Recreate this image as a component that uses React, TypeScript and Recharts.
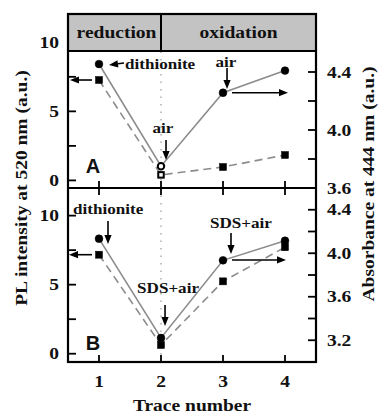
import React from 'react';
import { ComposedChart, Line, XAxis, YAxis, ReferenceLine, ReferenceDot } from 'recharts';

// ---------------- data ----------------
const traces = [1, 2, 3, 4];
const absorbanceA = [4.455, 3.75, 4.257, 4.41];
const plA = [7.27, 0.4, 0.97, 1.84];
const absorbanceB = [4.134, 3.221, 3.935, 4.115];
const plB = [7.17, 0.63, 5.24, 7.71];

const xTicks = [1, 2, 3, 4];
const plTicks = [0, 2.5, 5, 7.5, 10];
const plTickLabels = [0, 5, 10];
const absTicksA = [3.6, 3.8, 4.0, 4.2, 4.4];
const absTicksB = [3.2, 3.4, 3.6, 3.8, 4.0, 4.2, 4.4];
const absTickLabels = [3.2, 3.6, 4.0, 4.4];
const phaseLabels = ['reduction', 'oxidation'];
const panelLabels = ['A', 'B'];
const leftTitle = 'PL intensity at 520 nm (a.u.)';
const rightTitle = 'Absorbance at 444 nm (a.u.)';
const xTitle = 'Trace number';

// annotations (data coordinates, left axis)
const textsA = [
  { x: 1.419, y: 8.43, text: 'dithionite', anchor: 'start' },
  { x: 2.032, y: 3.8, text: 'air', anchor: 'middle' },
  { x: 3.048, y: 8.57, text: 'air', anchor: 'middle' },
];
const arrowsA = [
  [{ x: 1.403, y: 8.5 }, { x: 1.161, y: 8.36 }],
  [{ x: 0.887, y: 7.27 }, { x: 0.532, y: 7.27 }],
  [{ x: 2.081, y: 2.93 }, { x: 2.081, y: 1.48 }],
  [{ x: 3.065, y: 8.14 }, { x: 3.065, y: 6.62 }],
  [{ x: 3.145, y: 6.35 }, { x: 4.048, y: 6.35 }],
];
const textsB = [
  { x: 0.581, y: 10.48, text: 'dithionite', anchor: 'start' },
  { x: 2.113, y: 4.76, text: 'SDS+air', anchor: 'middle' },
  { x: 3.29, y: 9.47, text: 'SDS+air', anchor: 'middle' },
];
const arrowsB = [
  [{ x: 1.145, y: 9.61 }, { x: 1.145, y: 7.94 }],
  [{ x: 0.887, y: 7.17 }, { x: 0.516, y: 7.17 }],
  [{ x: 2.065, y: 3.53 }, { x: 2.065, y: 2.01 }],
  [{ x: 3.129, y: 8.74 }, { x: 3.129, y: 7.22 }],
  [{ x: 3.145, y: 6.79 }, { x: 4.016, y: 6.79 }],
];
const panelLabelPos = [{ x: 0.903, y: 1.04 }, { x: 0.903, y: 0.78 }];

// ---------------- layout / style ----------------
const W = 378;
const H = 413;
const L = 68;
const R = 316;
const TOP = 14;
const MID = 188;
const BOT = 362;
const HEADER_BOTTOM = 51;
const X_DOMAIN: [number, number] = [0.5, 4.5];
const SERIF = '"Liberation Serif", "Times New Roman", serif';
const SANS = '"Liberation Sans", Arial, sans-serif';
const LINE_GRAY = '#8c8c8c';
const HEADER_GRAY = '#c3c3c3';
const hollowA = [1];
const hollowB: number[] = [];

const dataA = traces.map((t, i) => ({ trace: t, abs: absorbanceA[i], pl: plA[i] }));
const dataB = traces.map((t, i) => ({ trace: t, abs: absorbanceB[i], pl: plB[i] }));

function T({ x, y, text, size = 16, anchor = 'middle', rot = 0, sx = 1.22, family = SERIF }: any) {
  return (
    <text
      transform={`translate(${x},${y}) rotate(${rot}) scale(${sx},1)`}
      textAnchor={anchor}
      fontSize={size}
      fontWeight="bold"
      fontFamily={family}
      fill="#111"
      dy="0.35em"
    >
      {text}
    </text>
  );
}

const circleDot = (hollow: number[]) => (p: any) => {
  const { cx, cy, index } = p;
  if (cx == null || cy == null) return <g key={`c${index}`} />;
  const open = hollow.includes(index);
  return (
    <circle
      key={`c${index}`}
      cx={cx}
      cy={cy}
      r={open ? 3.2 : 3.9}
      fill={open ? '#fff' : '#000'}
      stroke="#000"
      strokeWidth={open ? 2 : 0.5}
    />
  );
};

const squareDot = (hollow: number[]) => (p: any) => {
  const { cx, cy, index } = p;
  if (cx == null || cy == null) return <g key={`s${index}`} />;
  const open = hollow.includes(index);
  const s = open ? 5.5 : 7;
  return (
    <rect
      key={`s${index}`}
      x={cx - s / 2}
      y={cy - s / 2}
      width={s}
      height={s}
      fill={open ? '#fff' : '#000'}
      stroke="#000"
      strokeWidth={open ? 2 : 0.5}
    />
  );
};

const xTick = (dir: 'up' | 'down', showLabel: boolean) => (p: any) => {
  const { x, y, payload } = p;
  return (
    <g>
      <line x1={x} x2={x} y1={y} y2={dir === 'up' ? y - 7 : y + 7} stroke="#000" strokeWidth={1.8} />
      {showLabel && <T x={x} y={y + 19} text={String(payload.value)} />}
    </g>
  );
};

const leftTick = (p: any) => {
  const { x, y, payload } = p;
  const v = payload.value;
  return (
    <g>
      <line x1={x} x2={x + 8} y1={y} y2={y} stroke="#000" strokeWidth={1.8} />
      {plTickLabels.includes(v) && <T x={x - 9} y={y} text={String(v)} anchor="end" />}
    </g>
  );
};

const rightTick = (p: any) => {
  const { x, y, payload } = p;
  const v = payload.value;
  const lab = absTickLabels.some((a) => Math.abs(a - v) < 1e-6);
  return (
    <g>
      <line x1={x} x2={x - 8} y1={y} y2={y} stroke="#000" strokeWidth={1.8} />
      {lab && <T x={x + 11} y={y} text={v.toFixed(1)} anchor="start" />}
    </g>
  );
};

const arrowShape = (p: any) => {
  const { x1, y1, x2, y2 } = p;
  const ang = Math.atan2(y2 - y1, x2 - x1);
  const len = 9;
  const half = 3.6;
  const bx = x2 - len * Math.cos(ang);
  const by = y2 - len * Math.sin(ang);
  const nx = -Math.sin(ang);
  const ny = Math.cos(ang);
  return (
    <g>
      <line x1={x1} y1={y1} x2={bx} y2={by} stroke="#000" strokeWidth={1.6} />
      <polygon
        points={`${x2},${y2} ${bx + nx * half},${by + ny * half} ${bx - nx * half},${by - ny * half}`}
        fill="#000"
      />
    </g>
  );
};

function Panel({ data, xId, xId2, plDomain, absDomain, absTicks, texts, arrows, label, labelPos, hollow, isTop }: any) {
  return (
    <ComposedChart
      width={W}
      height={H}
      data={data}
      margin={{ top: isTop ? TOP : 0, right: 0, bottom: 0, left: 0 }}
    >
      {!isTop && (
        <XAxis
          xAxisId={xId2}
          orientation="top"
          type="number"
          dataKey="trace"
          domain={X_DOMAIN}
          allowDataOverflow
          ticks={xTicks}
          interval={0}
          height={MID}
          axisLine={false}
          tickLine={false}
          tickSize={0}
          tickMargin={0}
          tick={xTick('down', false)}
        />
      )}
      <XAxis
        xAxisId={xId}
        orientation="bottom"
        type="number"
        dataKey="trace"
        domain={X_DOMAIN}
        allowDataOverflow
        ticks={xTicks}
        interval={0}
        height={isTop ? H - MID : H - BOT}
        axisLine={false}
        tickLine={false}
        tickSize={0}
        tickMargin={0}
        tick={xTick('up', !isTop)}
      />
      <YAxis
        yAxisId="pl"
        orientation="left"
        type="number"
        domain={plDomain}
        allowDataOverflow
        ticks={plTicks}
        interval={0}
        width={L}
        axisLine={false}
        tickLine={false}
        tickSize={0}
        tickMargin={0}
        tick={leftTick}
      />
      <YAxis
        yAxisId="abs"
        orientation="right"
        type="number"
        domain={absDomain}
        allowDataOverflow
        ticks={absTicks}
        interval={0}
        width={W - R}
        axisLine={false}
        tickLine={false}
        tickSize={0}
        tickMargin={0}
        tick={rightTick}
      />
      <ReferenceLine
        xAxisId={xId}
        yAxisId="pl"
        x={2}
        stroke="#a0a0a0"
        strokeWidth={1.3}
        strokeDasharray="1.5 6"
      />
      <Line
        xAxisId={xId}
        yAxisId="abs"
        dataKey="abs"
        stroke={LINE_GRAY}
        strokeWidth={1.6}
        dot={circleDot(hollow)}
        activeDot={false}
        isAnimationActive={false}
      />
      <Line
        xAxisId={isTop ? xId : xId2}
        yAxisId="pl"
        dataKey="pl"
        stroke={LINE_GRAY}
        strokeWidth={1.6}
        strokeDasharray="8 5"
        dot={squareDot(hollow)}
        activeDot={false}
        isAnimationActive={false}
      />
      {arrows.map((seg: any, i: number) => (
        <ReferenceLine
          key={`a${i}`}
          xAxisId={xId}
          yAxisId="pl"
          segment={seg}
          ifOverflow="visible"
          shape={arrowShape}
        />
      ))}
      {texts.map((t: any, i: number) => (
        <ReferenceDot
          key={`t${i}`}
          xAxisId={xId}
          yAxisId="pl"
          x={t.x}
          y={t.y}
          r={0}
          ifOverflow="visible"
          shape={(p: any) => <T x={p.cx} y={p.cy} text={t.text} size={14} anchor={t.anchor} />}
        />
      ))}
      <ReferenceDot
        xAxisId={xId}
        yAxisId="pl"
        x={labelPos.x}
        y={labelPos.y}
        r={0}
        ifOverflow="visible"
        shape={(p: any) => <T x={p.cx} y={p.cy} text={label} size={20} sx={1} family={SANS} />}
      />
    </ComposedChart>
  );
}

export default function App() {
  const divX = L + ((2 - X_DOMAIN[0]) / (X_DOMAIN[1] - X_DOMAIN[0])) * (R - L);
  return (
    <div style={{ position: 'absolute', left: 0, top: 0, width: W, height: H, background: '#fff' }}>
      <div style={{ position: 'absolute', left: 0, top: 0 }}>
        <Panel
          data={dataA}
          xId="xa"
          plDomain={[-0.55, 12.05]}
          absDomain={[3.6, 4.8]}
          absTicks={absTicksA}
          texts={textsA}
          arrows={arrowsA}
          label={panelLabels[0]}
          labelPos={panelLabelPos[0]}
          hollow={hollowA}
          isTop
        />
      </div>
      <div style={{ position: 'absolute', left: 0, top: 0 }}>
        <Panel
          data={dataB}
          xId="xb"
          xId2="xbt"
          plDomain={[-0.6, 12.0]}
          absDomain={[3.0, 4.6]}
          absTicks={absTicksB}
          texts={textsB}
          arrows={arrowsB}
          label={panelLabels[1]}
          labelPos={panelLabelPos[1]}
          hollow={hollowB}
          isTop={false}
        />
      </div>
      <svg
        width={W}
        height={H}
        style={{ position: 'absolute', left: 0, top: 0, pointerEvents: 'none' }}
      >
        <rect x={L} y={TOP} width={R - L} height={HEADER_BOTTOM - TOP} fill={HEADER_GRAY} stroke="#000" strokeWidth={2} />
        <line x1={divX} x2={divX} y1={TOP} y2={HEADER_BOTTOM} stroke="#000" strokeWidth={2} />
        <rect x={L} y={TOP} width={R - L} height={BOT - TOP} fill="none" stroke="#000" strokeWidth={2.2} />
        <line x1={L} x2={R} y1={MID} y2={MID} stroke="#000" strokeWidth={2.2} />
        <T x={(L + divX) / 2 + 2} y={(TOP + HEADER_BOTTOM) / 2} text={phaseLabels[0]} />
        <T x={(divX + R) / 2} y={(TOP + HEADER_BOTTOM) / 2} text={phaseLabels[1]} />
        <T x={21} y={(TOP + BOT) / 2} text={leftTitle} rot={-90} />
        <T x={368} y={(TOP + BOT) / 2 - 4} text={rightTitle} rot={-90} />
        <T x={(L + R) / 2} y={405} text={xTitle} />
      </svg>
    </div>
  );
}
